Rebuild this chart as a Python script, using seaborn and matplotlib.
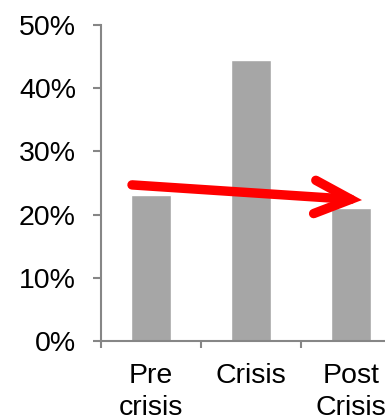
import numpy as np
import pandas as pd
import seaborn as sns
import matplotlib.pyplot as plt

# shares per period (percent)
periods = ['Pre\ncrisis', 'Crisis', 'Post\nCrisis']
shares = [23.1, 44.5, 21.0]
yticks = [0, 10, 20, 30, 40, 50]

sns.set_style('white')
plt.rcParams['font.family'] = ['Liberation Sans', 'DejaVu Sans']
plt.rcParams['text.color'] = 'black'

df = pd.DataFrame({'period': periods, 'share': shares})

fig = plt.figure(figsize=(3.85, 4.2), dpi=100)
# axes runs past the right edge of the picture, like the cropped original
ax = fig.add_axes([101/385, 79/420, 300/385, 316/420])

sns.barplot(data=df, x='period', y='share', color='#a6a6a6', saturation=1,
            width=0.4, ax=ax)

ax.set_xlim(-0.5, len(periods) - 0.5)
ax.set_ylim(0, 50)
ax.set_yticks(yticks)
ax.set_yticklabels([f'{t}%' for t in yticks])
ax.set_xlabel('')
ax.set_ylabel('')

for s in ['top', 'right']:
    ax.spines[s].set_visible(False)
for s in ['left', 'bottom']:
    ax.spines[s].set_color('#868686')
    ax.spines[s].set_linewidth(1.5)

ax.set_xticks(np.arange(len(periods) + 1) - 0.5, minor=True)
ax.tick_params(axis='x', which='major', length=0, pad=15.5, labelsize=20.5,
               labelcolor='black')
ax.tick_params(axis='x', which='minor', length=5, width=1.5, color='#868686',
               direction='out', bottom=True)
ax.tick_params(axis='y', length=6, width=1.5, color='#868686', direction='out',
               left=True, pad=12, labelsize=20.5, labelcolor='black')
for lbl in ax.get_xticklabels():
    lbl.set_linespacing(1.3)

# red trend arrow from first to last period
ax.annotate('', xy=(2.11, shares[-1] + 1.3), xytext=(-0.19, shares[0] + 1.6),
            arrowprops=dict(arrowstyle='->,head_length=2.6,head_width=1.2',
                            color='#ff0000', lw=6.8, mutation_scale=10,
                            shrinkA=0, shrinkB=0, capstyle='round',
                            joinstyle='miter'))

fig.savefig('out.png', dpi=100)
